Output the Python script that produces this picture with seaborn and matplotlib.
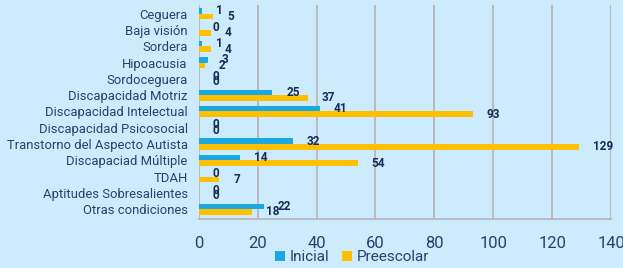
import pandas as pd
import seaborn as sns
import matplotlib.pyplot as plt

categorias = ['Ceguera', 'Baja visión', 'Sordera', 'Hipoacusia', 'Sordoceguera',
              'Discapacidad Motriz', 'Discapacidad Intelectual', 'Discapacidad Psicosocial',
              'Transtorno del Aspecto Autista', 'Discapaciad Múltiple', 'TDAH',
              'Aptitudes Sobresalientes', 'Otras condiciones']
inicial = [1, 0, 1, 3, 0, 25, 41, 0, 32, 14, 0, 0, 22]
preescolar = [5, 4, 4, 2, 0, 37, 93, 0, 129, 54, 7, 0, 18]

df = pd.DataFrame({'Categoria': categorias * 2,
                   'Nivel': ['Inicial'] * len(categorias) + ['Preescolar'] * len(categorias),
                   'Alumnos': inicial + preescolar})

sns.set_theme(style='whitegrid')
plt.rcParams['font.family'] = ['Roboto', 'DejaVu Sans']

fondo = '#CCEBFC'
texto = '#2B3F6C'

fig = plt.figure(figsize=(6.23, 2.68), dpi=100, facecolor=fondo)
ax = fig.add_axes([0.319, 0.183, 0.662, 0.798])
ax.set_facecolor(fondo)

sns.barplot(data=df, y='Categoria', x='Alumnos', hue='Nivel', orient='h',
            palette=['#1BA7E0', '#FFC000'], saturation=1, width=0.68, gap=0,
            linewidth=0, ax=ax, legend=True)

for cont in ax.containers:
    ax.bar_label(cont, padding=10, fontsize=8.5, fontweight='bold', color='#1A2B55')

ax.set_xlim(0, 140)
ax.set_xticks(range(0, 141, 20))
ax.set_ylim(12.6, -0.53)
ax.set_xlabel('')
ax.set_ylabel('')
ax.grid(axis='x', color='#B8B8B8', linewidth=1.3)
ax.grid(axis='y', visible=False)
for s in ['top', 'right', 'left']:
    ax.spines[s].set_visible(False)
ax.spines['bottom'].set_color('#B8B8B8')
ax.spines['bottom'].set_linewidth(1.3)
ax.tick_params(axis='y', labelsize=9.4, labelcolor=texto, length=0, pad=8)
ax.tick_params(axis='x', labelsize=12, labelcolor=texto, length=0, pad=12)

ax.legend(loc='center', bbox_to_anchor=(0.565, 0.04), bbox_transform=fig.transFigure,
          ncol=2, frameon=False, fontsize=11, handlelength=0.7, handleheight=0.7,
          handletextpad=0.3, columnspacing=0.8, labelcolor=texto)

plt.savefig('out.png', dpi=100, facecolor=fondo)
